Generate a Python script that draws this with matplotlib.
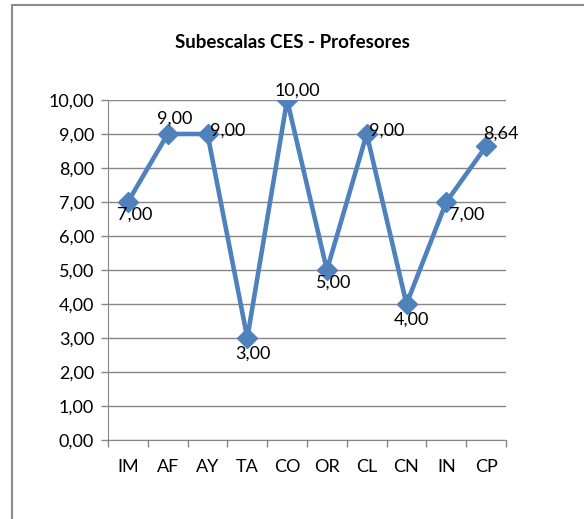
import matplotlib
matplotlib.use("Agg")
from matplotlib import pyplot as plt
from matplotlib.patches import Rectangle
from matplotlib.ticker import FixedLocator

# datos
categorias = ["IM", "AF", "AY", "TA", "CO", "OR", "CL", "CN", "IN", "CP"]
valores = [7.00, 9.00, 9.00, 3.00, 10.00, 5.00, 9.00, 4.00, 7.00, 8.64]
# posición de la etiqueta de cada punto (offset en puntos)
offsets = [(-8, -15), (-8, 5), (2, -3), (-9, -17), (-9, 1), (-8, -15), (2, -3), (-9, -17), (2, -15), (-2, 3)]

plt.rcParams['font.family'] = ['Lato', 'DejaVu Sans']
color = "#4F81BD"
gris = "#868686"

fig = plt.figure(figsize=(5.84, 5.19), dpi=100)
ax = fig.add_axes([108/584, 1 - 440/519, (506-108)/584, (440-100)/519])

x = list(range(len(categorias)))
ax.plot(x, valores, "-", color=color, lw=3.3, marker="D", markersize=10, zorder=3)

for xi, v, off in zip(x, valores, offsets):
    ax.annotate(f"{v:.2f}".replace(".", ","), xy=(xi, v), xytext=off,
                textcoords="offset points", fontsize=13, ha="left", va="bottom",
                zorder=4, annotation_clip=False)

ax.set_xlim(-0.5, 9.5)
ax.set_ylim(0, 10)
ax.set_yticks(range(0, 11))
ax.set_yticklabels([f"{i},00" for i in range(0, 11)], fontsize=13)
ax.yaxis.grid(True, color=gris, lw=1)
ax.set_axisbelow(True)

ax.set_xticks(x)
ax.set_xticklabels(categorias, fontsize=13)
ax.xaxis.set_minor_locator(FixedLocator([i - 0.5 for i in range(11)]))
ax.tick_params(axis="x", which="major", length=0, pad=14)
ax.tick_params(axis="x", which="minor", length=5, color=gris, width=1)
ax.tick_params(axis="y", length=5, color=gris, width=1, pad=5)

for s in ["top", "right"]:
    ax.spines[s].set_visible(False)
ax.spines["left"].set_color(gris)
ax.spines["bottom"].set_color(gris)

fig.text(0.5, 1 - 43/519, "Subescalas CES - Profesores", ha="center", va="center",
         fontsize=13.5, fontweight="bold")

# marco del gráfico
fig.patches.append(Rectangle((12/584, -0.1), 1.0, 1 - 5/519 + 0.1,
                             transform=fig.transFigure, fill=False,
                             edgecolor="#8c8c8c", lw=1.5))

fig.savefig("out.png", dpi=100)
